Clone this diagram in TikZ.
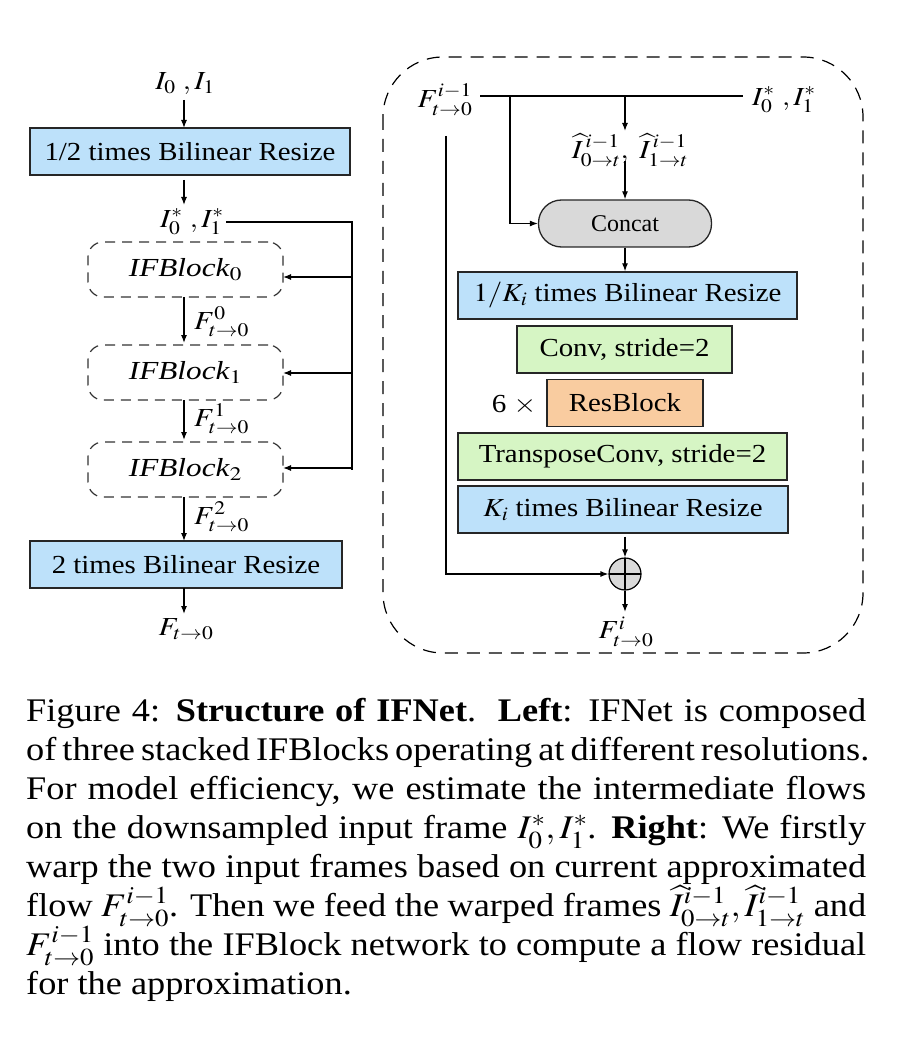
\documentclass[tikz,border=0pt]{standalone}
\usepackage{mathptmx}
\usepackage{fontspec}
\usepackage{graphicx}
\setmainfont{Liberation Serif}
\usetikzlibrary{arrows.meta,calc}
\definecolor{bblue}{RGB}{189,225,250}
\definecolor{bgreen}{RGB}{214,245,196}
\definecolor{borange}{RGB}{249,204,160}
\definecolor{bgray}{RGB}{217,217,217}
\newcommand{\capline}[1]{\makebox[763.6pt][s]{#1}}
\newcommand{\T}[2][1.11]{\scalebox{#1}[1]{#2}}
\begin{document}
\begin{tikzpicture}[x=1pt,y=-1pt,
  every node/.style={inner sep=2pt},
  lbl/.style={font=\fontsize{26}{31}\selectfont},
  rbox/.style={draw=black!85,line width=1.3pt,minimum height=47pt,inner sep=0pt,font=\fontsize{26}{31}\selectfont},
  blue/.style={rbox,fill=bblue},
  green/.style={rbox,fill=bgreen},
  orange/.style={rbox,fill=borange},
  ifb/.style={draw=black!80,line width=1.2pt,dash pattern=on 10pt off 7pt,rounded corners=15pt,minimum width=195pt,minimum height=55pt,inner sep=0pt,font=\fontsize{26}{31}\selectfont},
  conn/.style={line width=1.2pt,-{Latex[length=8pt,width=6pt]}},
  line/.style={line width=1.2pt}]
\useasboundingbox (0,0) rectangle (910,1056);

% ---------------- Left column ----------------
\node[lbl] (in) at (185,84) {\T[1.12]{$I_0\ ,I_1$}};
\node[blue,minimum width=320pt] (r1) at (190,151.5) {\T{1/2 times Bilinear Resize}};
\node[lbl] (istar) at (192,222) {\T[1.12]{$I_0^*\ ,I_1^*$}};
\node[ifb] (b0) at (185.5,269.5) {\T[1.2]{\textit{IFBlock}$_0$}};
\node[ifb] (b1) at (185.5,372.5) {\T[1.2]{\textit{IFBlock}$_1$}};
\node[ifb] (b2) at (185.5,469.5) {\T[1.2]{\textit{IFBlock}$_2$}};
\node[blue,minimum width=312pt] (r2) at (186,564.5) {\T{2 times Bilinear Resize}};
\node[lbl] (out) at (186,629) {\T[1.12]{$F_{t\to 0}$}};

\draw[conn] (184,100) -- (184,128);
\draw[conn] (184,180) -- (184,205);
\draw[conn] (184,297) -- (184,343);
\draw[conn] (184,400) -- (184,440);
\draw[conn] (184,497) -- (184,541);
\draw[conn] (184,588) -- (184,614);
\node[lbl,anchor=west] (f0) at (192,322) {\T[1.12]{$F_{t\to 0}^{0}$}};
\node[lbl,anchor=west] (f1) at (192,419) {\T[1.12]{$F_{t\to 0}^{1}$}};
\node[lbl,anchor=west] (f2) at (192,517) {\T[1.12]{$F_{t\to 0}^{2}$}};

\coordinate (bus) at (352,222);
\draw[line] (istar.east) -- (bus) -- (bus |- b2.east);
\draw[conn] (bus |- 0,277) -- (283,277);
\draw[conn] (bus |- 0,373) -- (283,373);
\draw[conn] (bus |- 0,468) -- (283,468);

% ---------------- Right panel ----------------
\draw[line width=1.2pt,dash pattern=on 13pt off 9pt,rounded corners=60pt] (383,57) rectangle (863,653);

\node[lbl] (fprev) at (445,100) {\T[1.12]{$F_{t\to 0}^{i-1}$}};
\node[lbl] (istar2) at (784,100) {\T[1.12]{$I_0^*\ ,I_1^*$}};
\node[lbl] (ihat) at (630,150) {\T[1.12]{$\widehat{I}_{0\to t}^{\,i-1},\ \widehat{I}_{1\to t}^{\,i-1}$}};
\node[rbox,fill=bgray,rounded corners=23pt,minimum width=173pt,font=\fontsize{24}{29}\selectfont] (concat) at (625,223.5) {Concat};
\node[blue,minimum width=339pt] (rk) at (627.5,295.5) {\T{$1/K_i$ times Bilinear Resize}};
\node[green,minimum width=215pt] (conv) at (624.5,349.5) {\T{Conv, stride=2}};
\node[orange,minimum width=156pt] (res) at (625,403) {\T{ResBlock}};
\node[lbl] (six) at (514,405) {\T[1.12]{6 $\times$}};
\node[green,minimum width=329pt] (tconv) at (622.5,456.5) {\T{TransposeConv, stride=2}};
\node[blue,minimum width=330pt] (kr) at (623,509.5) {\T{$K_i$ times Bilinear Resize}};
\node[circle,draw=black,line width=1.2pt,fill=bgray,minimum size=32pt,inner sep=0pt,
  path picture={\draw[line width=1.2pt] (path picture bounding box.north) -- (path picture bounding box.south)
     (path picture bounding box.west) -- (path picture bounding box.east);}] (plus) at (625,574) {};
\node[lbl] (fout) at (626,632) {\T[1.12]{$F_{t\to 0}^{i}$}};

\draw[line] (480,96) -- (743,96);
\coordinate (br) at (510,96);
\coordinate (warp) at (625,96);
\coordinate (fl) at (446,136);
\draw[conn] (br) |- (concat.west);
\draw[conn] (warp) -- (625,131);
\draw[conn] (625,161) -- (concat.north);
\draw[conn] (concat.south) -- (concat.south |- rk.north);
\draw[conn] ($(plus.north |- kr.south)+(0,3)$) -- (plus.north);
\draw[conn] (fl) |- (plus.west);
\draw[conn] (plus.south) -- (625,612);

% ---------------- Caption ----------------
\node[anchor=north west,inner sep=0pt] (cap) at (26,698) {\scalebox{1.1}[1]{%
\begin{minipage}[t]{763.6pt}\fontsize{33}{39}\selectfont
\parindent=0pt\lineskiplimit=-30pt
\capline{Figure 4: \textbf{Structure of IFNet}.\ \ \textbf{Left}: IFNet is composed}\par
\capline{of three stacked IFBlocks operating at different resolutions.}\par
\capline{For model efficiency, we estimate the intermediate flows}\par
\capline{on the downsampled input frame $I_0^*, I_1^*$. \textbf{Right}: We firstly}\par
\capline{warp the two input frames based on current approximated}\par
\capline{flow $F_{t\to0}^{i-1}$. Then we feed the warped frames $\widehat{I}_{0\to t}^{i-1}, \widehat{I}_{1\to t}^{i-1}$ and}\par
\capline{$F_{t\to0}^{i-1}$ into the IFBlock network to compute a flow residual}\par
for the approximation.
\end{minipage}}};
\end{tikzpicture}
\end{document}
